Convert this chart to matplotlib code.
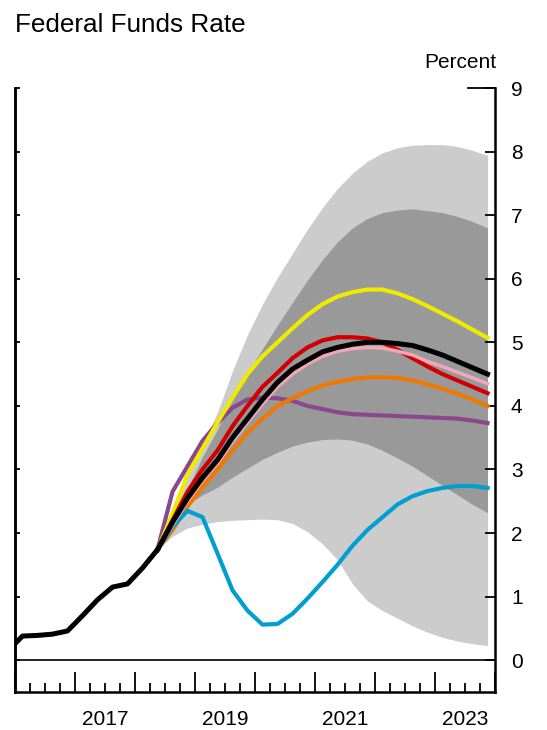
import numpy as np
import matplotlib.pyplot as plt

plt.rcParams['font.family'] = ['Liberation Sans', 'DejaVu Sans']

# History: quarterly averages, 2015Q4 - 2018Q2 (plotted at quarter midpoints)
hist_start = 2015.875
hist_rate = [0.14, 0.38, 0.39, 0.41, 0.46, 0.70, 0.95, 1.15, 1.20, 1.45, 1.74]

# Projections: 2018Q2 - 2023Q4
proj_start = 2018.375
outer_hi = [1.74, 2.35, 2.93, 3.40, 3.90, 4.55, 5.12, 5.60, 6.02, 6.40, 6.78, 7.12,
            7.42, 7.66, 7.85, 7.98, 8.06, 8.10, 8.11, 8.11, 8.08, 8.02, 7.94]
inner_hi = [1.74, 2.20, 2.70, 3.20, 3.63, 4.12, 4.52, 4.90, 5.27, 5.63, 5.98, 6.30,
            6.58, 6.80, 6.95, 7.04, 7.08, 7.10, 7.07, 7.04, 6.98, 6.90, 6.80]
inner_lo = [1.74, 2.20, 2.45, 2.60, 2.72, 2.88, 3.02, 3.16, 3.27, 3.37, 3.43, 3.47,
            3.48, 3.46, 3.40, 3.30, 3.18, 3.05, 2.90, 2.75, 2.60, 2.45, 2.32]
outer_lo = [1.74, 1.95, 2.08, 2.14, 2.18, 2.20, 2.21, 2.22, 2.21, 2.15, 2.02, 1.83,
            1.58, 1.20, 0.93, 0.78, 0.66, 0.54, 0.44, 0.36, 0.30, 0.26, 0.23]

baseline = [1.74, 2.17, 2.55, 2.87, 3.15, 3.50, 3.80, 4.10, 4.37, 4.58, 4.72, 4.85,
            4.92, 4.97, 5.00, 5.00, 4.98, 4.95, 4.88, 4.80, 4.70, 4.60, 4.50]
yellow = [1.74, 2.30, 2.92, 3.33, 3.74, 4.13, 4.50, 4.78, 5.00, 5.22, 5.43, 5.60,
          5.72, 5.79, 5.83, 5.83, 5.77, 5.68, 5.57, 5.45, 5.33, 5.20, 5.07]
red = [1.74, 2.20, 2.65, 3.00, 3.30, 3.68, 4.00, 4.30, 4.52, 4.75, 4.92, 5.03,
       5.08, 5.08, 5.06, 5.00, 4.88, 4.75, 4.62, 4.50, 4.40, 4.30, 4.20]
pink = [1.74, 2.12, 2.50, 2.82, 3.10, 3.44, 3.74, 4.03, 4.30, 4.50, 4.66, 4.78,
        4.86, 4.90, 4.92, 4.91, 4.86, 4.80, 4.70, 4.62, 4.53, 4.44, 4.35]
orange = [1.74, 2.05, 2.42, 2.72, 3.00, 3.30, 3.58, 3.80, 4.00, 4.12, 4.23, 4.32,
          4.38, 4.42, 4.45, 4.45, 4.44, 4.40, 4.34, 4.27, 4.19, 4.10, 4.00]
purple = [1.74, 2.65, 3.05, 3.45, 3.73, 3.97, 4.10, 4.13, 4.12, 4.08, 4.00, 3.95,
          3.90, 3.87, 3.86, 3.85, 3.84, 3.83, 3.82, 3.81, 3.80, 3.77, 3.73]
blue = [1.74, 2.10, 2.35, 2.25, 1.68, 1.10, 0.78, 0.56, 0.57, 0.73, 0.97, 1.23,
        1.50, 1.80, 2.05, 2.25, 2.45, 2.58, 2.66, 2.71, 2.74, 2.74, 2.71]

year_labels = ['2017', '2019', '2021', '2023']

FS = 15

x_hist = hist_start + 0.25 * np.arange(len(hist_rate))
x_proj = proj_start + 0.25 * np.arange(len(baseline))

fig = plt.figure(figsize=(5.47, 7.30), dpi=100)
ax = fig.add_axes([15 / 547, 38 / 730, 480 / 547, 604 / 730])

# confidence bands
ax.fill_between(x_proj, outer_lo, outer_hi, color='#cccccc', lw=0, zorder=1)
ax.fill_between(x_proj, inner_lo, inner_hi, color='#999999', lw=0, zorder=1.5)

ax.axhline(0, color='black', lw=1.2, zorder=2)

# alternative scenarios
ax.plot(x_proj, purple, color='#8b478e', lw=3, zorder=3)
ax.plot(x_proj, orange, color='#f07800', lw=3, zorder=3)
ax.plot(x_proj, yellow, color='#eeea00', lw=3, zorder=3)
ax.plot(x_proj, blue, color='#009fd0', lw=3, zorder=3)
ax.plot(x_proj, red, color='#d10000', lw=3, zorder=3)
ax.plot(x_proj, pink, color='#f2a7b8', lw=2.5, zorder=3.5)
ax.plot(x_proj, baseline, color='black', lw=3.6, zorder=4)
ax.plot(x_hist, hist_rate, color='black', lw=3.6, zorder=4)

ax.set_xlim(2016, 2024)
ax.set_ylim(-0.5, 9)

for s in ['left', 'right', 'bottom']:
    ax.spines[s].set_linewidth(1.8)
ax.spines['top'].set_visible(False)

# right axis labels
ax.yaxis.tick_right()
ax.set_yticks(range(0, 10))
ax.tick_params(axis='y', direction='in', length=7, width=1.3, pad=11.5, labelsize=FS)
# long mark at the top of the right axis
ax.plot([0.944, 1.0], [9, 9], color='black', lw=1.3, transform=ax.get_yaxis_transform(),
        clip_on=False)

# left axis ticks only
sec_y = ax.secondary_yaxis('left')
sec_y.set_yticks(range(0, 10))
sec_y.tick_params(direction='in', length=3.5, width=1.3, labelleft=False)
sec_y.spines['left'].set_linewidth(1.8)

# x ticks: years long, quarters short
ax.set_xticks(np.arange(2016, 2025))
ax.set_xticks(np.arange(2016, 2024.01, 0.25), minor=True)
ax.tick_params(axis='x', which='major', direction='in', length=14.5, width=1.3, labelbottom=False)
ax.tick_params(axis='x', which='minor', direction='in', length=6.5, width=1.3)

# year labels centred in each year
sec_x = ax.secondary_xaxis('bottom')
sec_x.set_xticks([int(y) + 0.5 for y in year_labels])
sec_x.set_xticklabels(year_labels)
sec_x.tick_params(length=0, pad=13, labelsize=FS)
sec_x.spines['bottom'].set_visible(False)

fig.text(15 / 547, 1 - 32 / 730, 'Federal Funds Rate', fontsize=18.8, ha='left', va='baseline')
fig.text(496 / 547, 1 - 68 / 730, 'Percent', fontsize=FS, ha='right', va='baseline')

plt.savefig('out.png', dpi=100)
